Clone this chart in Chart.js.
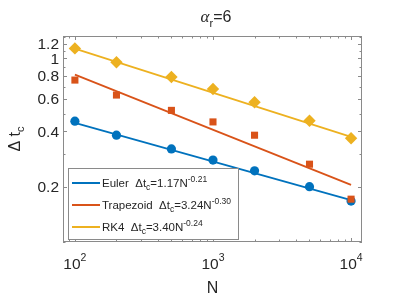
<!DOCTYPE html>
<html>
<head>
<meta charset="utf-8">
<script src="https://cdn.jsdelivr.net/npm/chart.js@4"></script>
<style>
  html, body { margin: 0; padding: 0; background: #fff; }
  #wrap { width: 399px; height: 299px; }
</style>
</head>
<body>
<div id="wrap"><canvas id="c" width="399" height="299"></canvas></div>
<script>
// --- datos ---
const N = [100, 200, 500, 1000, 2000, 5000, 10000];
const euler = [0.454, 0.381, 0.321, 0.279, 0.244, 0.200, 0.167];
const trapezoid = [0.76, 0.63, 0.52, 0.45, 0.381, 0.265, 0.171];
const rk4 = [1.13, 0.95, 0.79, 0.68, 0.576, 0.457, 0.367];

// rectas de ajuste (extremos en N=100 y N=10^4)
const fitN = [100, 10000];
const eulerFit = [0.445, 0.169];
const trapezoidFit = [0.814, 0.2045];
const rk4Fit = [1.126, 0.373];

const xTicks = [100, 1000, 10000];
const xTickExp = ['2', '3', '4'];
const yTicks = [0.2, 0.4, 0.6, 0.8, 1, 1.2];
const yTickLabels = ['0.2', '0.4', '0.6', '0.8', '1', '1.2'];

const legendItems = [
  { name: 'Euler', coef: '1.17', exp: '-0.21' },
  { name: 'Trapezoid', coef: '3.24', exp: '-0.30' },
  { name: 'RK4', coef: '3.40', exp: '-0.24' }
];

const AZUL = '#0072BD', NARANJA = '#D95319', AMARILLO = '#EDB120';
const colores = [AZUL, NARANJA, AMARILLO];
const GRIS = '#8a8a8a', TEXTO = '#262626';
const FUENTE = '"Liberation Sans", Arial, sans-serif';

const pares = (xs, ys) => xs.map((x, i) => ({ x: x, y: ys[i] }));

// dibuja texto con sub/superíndices: [{t, size, dy, font}]
function textoRico(ctx, partes, x, y, align) {
  let ancho = 0;
  partes.forEach(p => {
    ctx.font = (p.font || '') + ' ' + p.size + 'px ' + (p.family || FUENTE);
    p.w = ctx.measureText(p.t).width;
    ancho += p.w;
  });
  let cx = align === 'center' ? x - ancho / 2 : (align === 'right' ? x - ancho : x);
  partes.forEach(p => {
    ctx.font = (p.font || '') + ' ' + p.size + 'px ' + (p.family || FUENTE);
    ctx.fillText(p.t, cx, y + (p.dy || 0));
    cx += p.w;
  });
}

const ejesMatlab = {
  id: 'ejesMatlab',
  afterDatasetsDraw(chart) {
    const ctx = chart.ctx;
    const a = chart.chartArea;
    const xs = chart.scales.x, ys = chart.scales.y;
    ctx.save();

    // marco
    ctx.strokeStyle = GRIS;
    ctx.lineWidth = 1;
    ctx.strokeRect(a.left + 0.5, a.top + 0.5, a.right - a.left - 1, a.bottom - a.top - 1);

    // marcas del eje x (mayores y menores)
    ctx.beginPath();
    for (let d = 10; d <= 10000; d *= 10) {
      for (let k = 1; k <= 9; k++) {
        const v = d * k;
        if (v < xs.min || v > xs.max) continue;
        const px = Math.round(xs.getPixelForValue(v)) + 0.5;
        const len = k === 1 ? 4 : 2.5;
        ctx.moveTo(px, a.bottom); ctx.lineTo(px, a.bottom - len);
        ctx.moveTo(px, a.top); ctx.lineTo(px, a.top + len);
      }
    }
    // marcas del eje y
    for (let k = 1; k <= 13; k++) {
      const v = k / 10;
      if (v < ys.min || v > ys.max) continue;
      const py = Math.round(ys.getPixelForValue(v)) + 0.5;
      const len = (k % 2 === 0 && k <= 12) ? 4 : 2.5;
      ctx.moveTo(a.left, py); ctx.lineTo(a.left + len, py);
      ctx.moveTo(a.right, py); ctx.lineTo(a.right - len, py);
    }
    ctx.stroke();

    ctx.fillStyle = TEXTO;
    ctx.textBaseline = 'alphabetic';

    // etiquetas x: 10^n
    xTicks.forEach((v, i) => {
      const px = xs.getPixelForValue(v);
      textoRico(ctx, [
        { t: '10', size: 15.5 },
        { t: xTickExp[i], size: 10.5, dy: -8 }
      ], px, 269, 'center');
    });

    // etiquetas y
    ctx.textAlign = 'left';
    yTicks.forEach((v, i) => {
      const py = ys.getPixelForValue(v);
      textoRico(ctx, [{ t: yTickLabels[i], size: 15.5 }], 59, py + 5.5, 'right');
    });

    // título
    textoRico(ctx, [
      { t: 'α', size: 17, font: 'italic', family: '"Liberation Serif", serif' },
      { t: 'r', size: 11, dy: 5 },
      { t: '=6', size: 16 }
    ], 216, 22, 'center');

    // etiqueta eje x
    textoRico(ctx, [{ t: 'N', size: 16 }], (a.left + a.right) / 2, 293, 'center');

    // etiqueta eje y (girada)
    ctx.save();
    ctx.translate(20, (a.top + a.bottom) / 2);
    ctx.rotate(-Math.PI / 2);
    textoRico(ctx, [
      { t: 'Δ t', size: 16 },
      { t: 'c', size: 11, dy: 4 }
    ], 0, 0, 'center');
    ctx.restore();

    // leyenda
    const lx = 68, ly = 168, lw = 170, lh = 71;
    ctx.fillStyle = '#fff';
    ctx.fillRect(lx, ly, lw, lh);
    ctx.strokeStyle = GRIS;
    ctx.strokeRect(lx + 0.5, ly + 0.5, lw, lh);
    legendItems.forEach((it, i) => {
      const y = 183 + i * 22;
      ctx.strokeStyle = colores[i];
      ctx.lineWidth = 2;
      ctx.beginPath();
      ctx.moveTo(72, y); ctx.lineTo(100, y);
      ctx.stroke();
      ctx.fillStyle = TEXTO;
      textoRico(ctx, [
        { t: it.name + '  Δt', size: 11.5 },
        { t: 'c', size: 8.5, dy: 3 },
        { t: '=' + it.coef + 'N', size: 11.5 },
        { t: it.exp, size: 8.5, dy: -5 }
      ], 102, y + 4, 'left');
    });

    ctx.restore();
  }
};

const ctx = document.getElementById('c').getContext('2d');
new Chart(ctx, {
  type: 'scatter',
  data: {
    datasets: [
      { data: pares(fitN, eulerFit), showLine: true, borderColor: AZUL, borderWidth: 1.8, pointRadius: 0, order: 6 },
      { data: pares(N, euler), pointStyle: 'circle', pointRadius: 4.6, backgroundColor: AZUL, borderColor: AZUL, borderWidth: 0, order: 5 },
      { data: pares(fitN, trapezoidFit), showLine: true, borderColor: NARANJA, borderWidth: 1.8, pointRadius: 0, order: 4 },
      { data: pares(N, trapezoid), pointStyle: 'rect', pointRadius: 5, backgroundColor: NARANJA, borderColor: NARANJA, borderWidth: 0, order: 3 },
      { data: pares(fitN, rk4Fit), showLine: true, borderColor: AMARILLO, borderWidth: 1.8, pointRadius: 0, order: 2 },
      { data: pares(N, rk4), pointStyle: 'rectRot', pointRadius: 6.2, backgroundColor: AMARILLO, borderColor: AMARILLO, borderWidth: 0, order: 1 }
    ]
  },
  options: {
    responsive: false,
    animation: false,
    events: [],
    layout: { padding: { left: 63, top: 36, right: 37, bottom: 57 } },
    plugins: { legend: { display: false }, tooltip: { enabled: false }, title: { display: false } },
    scales: {
      x: { type: 'logarithmic', min: 82, max: 12000, display: false },
      y: { type: 'logarithmic', min: 0.1, max: 1.32, display: false }
    }
  },
  plugins: [ejesMatlab]
});
</script>
</body>
</html>
